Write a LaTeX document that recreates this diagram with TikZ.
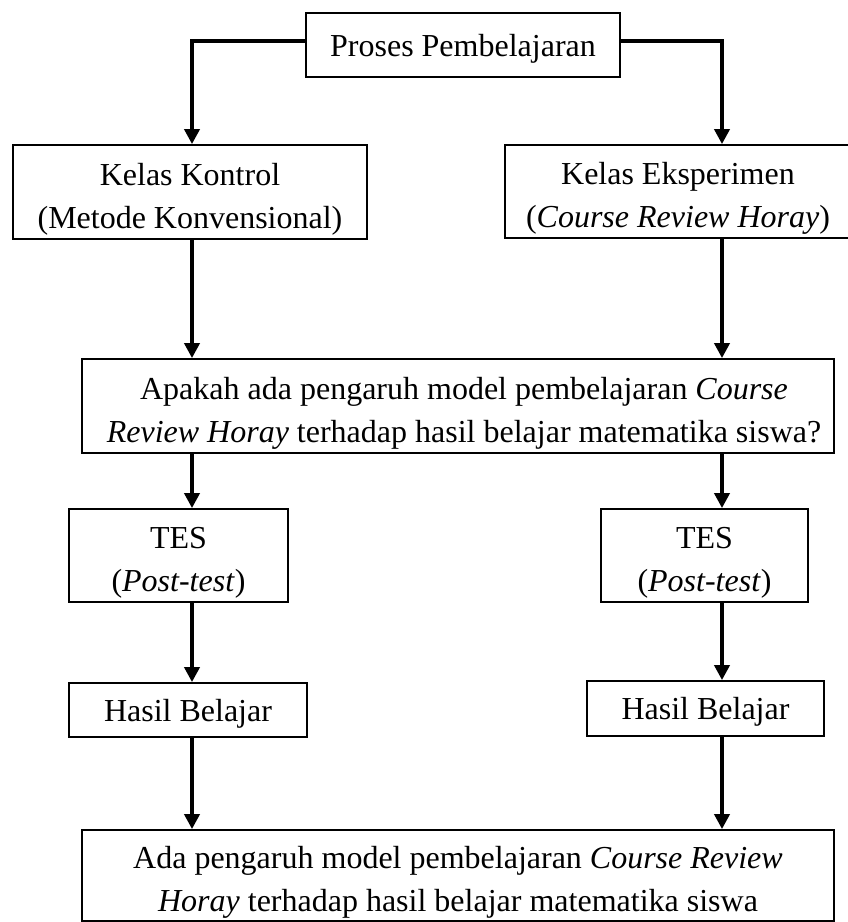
\documentclass[tikz,border=0pt]{standalone}
\usepackage{fontspec}
\setmainfont{Liberation Serif}
\usetikzlibrary{arrows.meta}
\tikzset{
  kotak/.style={draw, line width=1.8pt, inner sep=0pt},
  teks/.style={font=\fontsize{32pt}{43pt}\selectfont, align=center, inner sep=0pt},
  panah/.style={->, line width=4pt}
}

\begin{document}
\begin{tikzpicture}[x=1pt, y=-1pt, >={Triangle[width=15pt,length=15pt]}]
\useasboundingbox (0,0) rectangle (848,922);
\coordinate (colL) at (192,0);
\coordinate (colR) at (722,0);

% kotak-kotak
\node[kotak, teks, text depth=0pt, minimum width=314pt, minimum height=64pt] (proses) at (463,45) {Proses Pembelajaran};
\node[kotak, minimum width=354pt, minimum height=94pt] (kontrol) at (190,192) {};
\node[teks] (kontrolteks) at ([yshift=-7pt]kontrol.center) {Kelas Kontrol\\(Metode Konvensional)};
\node[kotak, minimum width=346pt, minimum height=93pt] (eksperimen) at (678,191.5) {};
\node[teks] (eksperimenteks) at ([yshift=-7pt]eksperimen.center) {Kelas Eksperimen\\(\textit{Course Review Horay})};
\node[kotak, minimum width=752pt, minimum height=94pt] (tanya) at (458,406) {};
\node[teks] (tanyateks) at ([xshift=6pt,yshift=-7pt]tanya.center) {Apakah ada pengaruh model pembelajaran \textit{Course}\\\textit{Review Horay} terhadap hasil belajar matematika siswa?};
\node[kotak, minimum width=219pt, minimum height=93pt] (tesL) at (178.5,555.5) {};
\node[teks] (tesLteks) at ([yshift=-7pt]tesL.center) {TES\\(\textit{Post-test})};
\node[kotak, minimum width=207pt, minimum height=93pt] (tesR) at (704.5,555.5) {};
\node[teks] (tesRteks) at ([yshift=-7pt]tesR.center) {TES\\(\textit{Post-test})};
\node[kotak, teks, text depth=0pt, minimum width=238pt, minimum height=54pt] (hasilL) at (188,710) {Hasil Belajar};
\node[kotak, teks, text depth=0pt, minimum width=237pt, minimum height=55pt] (hasilR) at (705.5,708.5) {Hasil Belajar};
\node[kotak, minimum width=752pt, minimum height=91pt] (akhir) at (458,875.5) {};
\node[teks] (akhirteks) at ([yshift=-7pt]akhir.center) {Ada pengaruh model pembelajaran \textit{Course Review}\\\textit{Horay} terhadap hasil belajar matematika siswa};

% panah
\draw[panah] ([yshift=4pt]proses.west) -| (colL |- kontrol.north);
\draw[panah] ([yshift=4pt]proses.east) -| (colR |- eksperimen.north);
\draw[panah] (colL |- kontrol.south) -- (colL |- tanya.north);
\draw[panah] (colR |- eksperimen.south) -- (colR |- tanya.north);
\draw[panah] (colL |- tanya.south) -- (colL |- tesL.north);
\draw[panah] (colR |- tanya.south) -- (colR |- tesR.north);
\draw[panah] (colL |- tesL.south) -- (colL |- hasilL.north);
\draw[panah] (colR |- tesR.south) -- (colR |- hasilR.north);
\draw[panah] (colL |- hasilL.south) -- (colL |- akhir.north);
\draw[panah] (colR |- hasilR.south) -- (colR |- akhir.north);
\end{tikzpicture}
\end{document}
